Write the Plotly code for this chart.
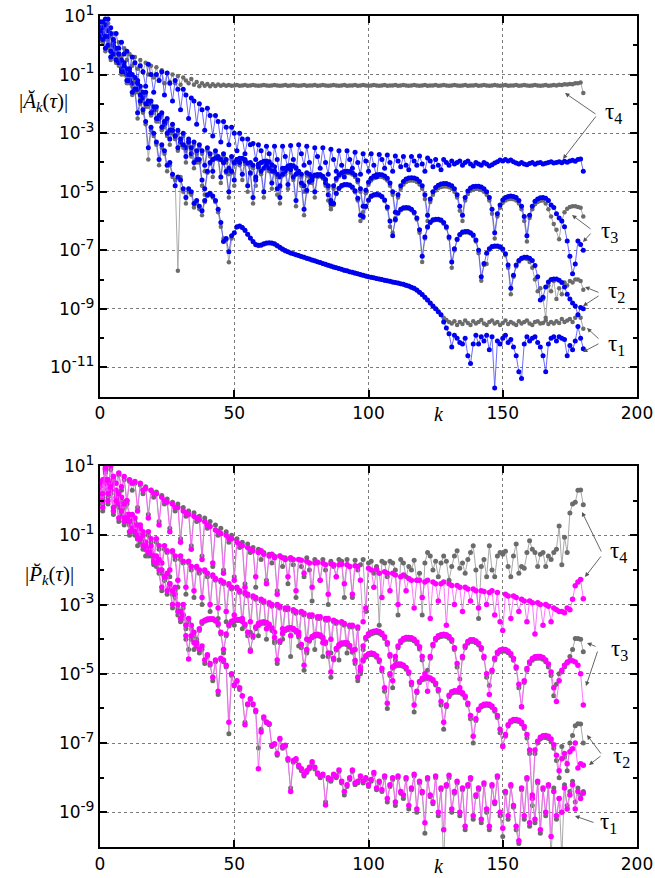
import plotly.graph_objects as go

k = list(range(181))

# ---------------- top panel |A_k(tau)|, log10 values ----------------
a_t1_blue = [0.5, 0.8, 0.3, 0.9, -0.2, 0.2, -0.5, -0.3, -0.9, -0.7,
    -1.2, -1.0, -1.6, -1.5, -2.3, -1.9, -2.2, -2.6, -3.5, -2.8,
    -3.0, -3.3, -3.9, -3.4, -3.6, -4.1, -4.0, -4.4, -4.8, -4.5,
    -4.6, -4.9, -5.2, -4.9, -5.0, -5.4, -5.3, -5.5, -5.65, -5.3,
    -5.1, -5.05, -5.15, -5.3, -5.6, -6.05, -6.7, -6.6, -7.05, -6.5,
    -6.4, -6.2, -6.17, -6.22, -6.32, -6.45, -6.58, -6.7, -6.8, -6.83,
    -6.82, -6.78, -6.75, -6.74, -6.75, -6.78, -6.84, -6.9, -6.96, -7.01,
    -7.05, -7.09, -7.12, -7.15, -7.18, -7.21, -7.24, -7.27, -7.3, -7.33,
    -7.36, -7.39, -7.42, -7.45, -7.48, -7.51, -7.54, -7.57, -7.6, -7.62,
    -7.65, -7.68, -7.7, -7.73, -7.75, -7.78, -7.8, -7.83, -7.85, -7.88,
    -7.9, -7.92, -7.94, -7.96, -7.98, -8.0, -8.02, -8.04, -8.06, -8.08,
    -8.1, -8.12, -8.14, -8.16, -8.19, -8.22, -8.26, -8.3, -8.36, -8.43,
    -8.51, -8.6, -8.7, -8.8, -8.9, -9.0, -9.1, -9.2, -9.45, -9.65,
    -9.85, -10.3, -9.9, -10.0, -10.15, -10.2, -10.0, -10.6, -10.87, -10.2,
    -9.9, -10.2, -9.95, -10.1, -9.9, -10.4, -9.95, -11.7, -10.1, -10.2,
    -10.0, -9.9, -10.15, -10.05, -10.3, -10.6, -11.15, -11.38, -10.2, -9.95,
    -10.1, -10.0, -9.95, -10.15, -10.3, -10.6, -11.15, -10.2, -10.0, -9.95,
    -10.1, -9.95, -10.0, -10.05, -10.6, -10.25, -10.4, -10.1, -9.6, -10.0,
    -10.36]

a_t1_gray = [0.45, 0.7, 0.2, 0.75, -0.4, 0.1, -0.6, -0.4, -1.0, -0.8,
    -1.3, -1.1, -1.7, -1.6, -2.5, -2.0, -2.3, -2.7, -3.9, -2.9,
    -3.1, -3.4, -4.1, -3.5, -3.7, -4.3, -4.1, -4.5, -4.6, -7.7,
    -4.5, -5.0, -5.4, -5.0, -5.1, -5.54, -5.4, -5.6, -5.8, -5.35,
    -5.15, -5.1, -5.2, -5.35, -5.7, -6.2, -6.6, -6.65, -7.41, -6.6,
    -6.42, -6.22, -6.18, -6.23, -6.33, -6.46, -6.6, -6.72, -6.82, -6.85,
    -6.84, -6.8, -6.77, -6.76, -6.77, -6.8, -6.86, -6.92, -6.98, -7.03,
    -7.06, -7.1, -7.13, -7.16, -7.19, -7.22, -7.25, -7.28, -7.31, -7.34,
    -7.37, -7.4, -7.43, -7.46, -7.49, -7.52, -7.55, -7.58, -7.6, -7.63,
    -7.66, -7.69, -7.71, -7.74, -7.76, -7.79, -7.81, -7.84, -7.86, -7.89,
    -7.91, -7.93, -7.95, -7.97, -7.99, -8.01, -8.03, -8.05, -8.07, -8.09,
    -8.11, -8.13, -8.15, -8.17, -8.2, -8.23, -8.27, -8.31, -8.37, -8.44,
    -8.52, -8.61, -8.71, -8.81, -8.9, -9.0, -9.1, -9.2, -9.3, -9.38,
    -9.45, -9.5, -9.42, -9.55, -9.45, -9.52, -9.4, -9.48, -9.55, -9.42,
    -9.5, -9.45, -9.38, -9.5, -9.55, -9.45, -9.4, -9.5, -9.45, -9.55,
    -9.48, -9.4, -9.52, -9.45, -9.5, -9.55, -9.42, -9.5, -9.45, -9.4,
    -9.5, -9.55, -9.45, -9.42, -9.5, -9.48, -9.4, -9.52, -9.45, -9.5,
    -9.42, -9.48, -9.35, -9.45, -9.4, -9.35, -9.45, -9.3, -9.2, -9.3,
    -9.68]

a_t2_blue = [0.6, 0.2, 0.7, 0.0, 0.4, -0.3, -0.1, -0.6, -0.5, -0.9,
    -0.8, -1.2, -1.0, -1.5, -1.3, -1.7, -1.6, -2.0, -1.9, -2.3,
    -2.1, -2.5, -2.4, -2.8, -2.6, -3.0, -3.2, -2.9, -3.1, -3.5,
    -3.2, -3.4, -3.8, -3.3, -3.5, -4.0, -3.6, -3.9, -4.6,
    -4.9, -4.3, -4.0, -3.9, -3.85, -3.85, -3.9, -4.0, -4.3, -5.0,
    -4.3, -4.0, -3.9, -3.86, -3.86, -3.9, -4.02, -4.35, -5.2,
    -4.5, -4.15, -4.0, -3.96, -3.95, -3.98, -4.08, -4.3, -4.9,
    -4.8, -4.4, -4.2, -4.12, -4.1, -4.11, -4.18, -4.35, -4.7, -5.6,
    -4.95, -4.65, -4.5, -4.43, -4.41, -4.42, -4.47, -4.58, -4.8, -5.3,
    -5.4, -5.05, -4.88, -4.79, -4.75, -4.75, -4.77, -4.84, -4.97, -5.22, -5.8,
    -5.85, -5.5, -5.28, -5.15, -5.1, -5.09, -5.1, -5.16, -5.28, -5.52, -6.0,
    -6.5, -5.95, -5.72, -5.6, -5.55, -5.54, -5.55, -5.6, -5.7, -5.9, -6.3, -7.2,
    -6.55, -6.2, -6.04, -5.96, -5.94, -5.94, -5.97, -6.05, -6.2, -6.55, -7.4,
    -6.95, -6.62, -6.46, -6.38, -6.36, -6.36, -6.4, -6.48, -6.65, -7.0, -7.9,
    -7.45, -7.1, -6.95, -6.87, -6.85, -6.85, -6.88, -6.96, -7.12, -7.5, -8.3,
    -7.85, -7.5, -7.35, -7.27, -7.24, -7.24, -7.27, -7.35, -7.52, -7.9, -8.7,
    -8.6, -8.25, -8.08, -8.0, -7.98, -7.98, -8.02, -8.1, -8.25, -8.5, -8.66,
    -8.8, -8.9, -9.2, -8.95, -9.0]

a_t2_gray = [0.5, 0.1, 0.6, -0.1, 0.3, -0.4, -0.2, -0.7, -0.6, -1.0,
    -0.9, -1.3, -1.1, -1.6, -1.4, -1.8, -1.7, -2.1, -2.0, -2.4,
    -2.2, -2.6, -2.5, -2.9, -2.7, -3.1, -3.4, -3.0, -3.2, -3.6,
    -3.3, -3.5, -4.0, -3.4, -3.6, -4.2, -3.7, -4.0, -4.8,
    -5.1, -4.35, -4.05, -3.92, -3.87, -3.87, -3.92, -4.03, -4.35, -5.2,
    -4.35, -4.05, -3.93, -3.88, -3.88, -3.93, -4.06, -4.4, -5.4,
    -4.55, -4.2, -4.03, -3.99, -3.98, -4.01, -4.12, -4.36, -5.1,
    -4.85, -4.45, -4.24, -4.16, -4.14, -4.15, -4.22, -4.4, -4.8, -5.8,
    -5.0, -4.7, -4.55, -4.47, -4.45, -4.46, -4.51, -4.63, -4.87, -5.5,
    -5.45, -5.08, -4.91, -4.82, -4.78, -4.78, -4.8, -4.88, -5.02, -5.3, -6.0,
    -5.9, -5.53, -5.31, -5.18, -5.13, -5.12, -5.13, -5.19, -5.32, -5.58, -6.2,
    -6.4, -5.98, -5.75, -5.63, -5.58, -5.57, -5.58, -5.63, -5.74, -5.95, -6.4, -7.4,
    -6.6, -6.23, -6.07, -5.99, -5.97, -5.97, -6.0, -6.09, -6.25, -6.6, -7.6,
    -7.0, -6.65, -6.49, -6.41, -6.39, -6.39, -6.43, -6.52, -6.7, -7.1, -8.04,
    -7.5, -7.47, -6.98, -6.9, -6.88, -6.88, -6.91, -7.0, -7.17, -7.6, -8.5,
    -7.9, -7.55, -7.38, -7.3, -7.27, -7.3, -7.4, -7.6, -8.0, -8.4, -8.3,
    -8.66, -9.3, -8.2, -8.4, -8.05, -8.66, -8.3, -8.5, -8.1, -8.2, -8.05,
    -8.1, -8.0, -8.0, -8.05, -8.35]

a_t3_blue = [0.3, 0.6, -0.1, 0.3, -0.4, 0.0, -0.5, -0.3, -0.8, -0.6,
    -1.0, -0.9, -1.3, -1.1, -1.5, -1.4, -1.8, -1.6, -2.0, -1.9,
    -2.2, -2.1, -2.5, -2.3, -2.7, -2.5, -2.9, -2.7, -3.1, -2.9,
    -3.3, -3.0, -3.5, -3.2, -3.7, -3.3, -3.9, -3.4, -3.6, -4.1,
    -3.5, -3.7, -4.3, -3.6, -3.8, -4.5, -3.7, -3.9, -4.2, -3.8,
    -4.6, -3.9, -4.0, -4.4, -3.95, -4.8, -4.0, -4.1, -4.6, -4.05,
    -4.3, -5.0, -4.1, -4.2, -4.7, -4.15, -4.4, -5.2, -4.2, -4.3,
    -4.75, -4.25, -4.5, -5.3, -4.3, -4.4, -4.8, -4.35, -4.4, -4.6,
    -5.0, -4.45, -4.42, -4.5, -4.7, -5.1,
    -5.4, -4.8, -4.55, -4.42, -4.35, -4.31, -4.3, -4.31, -4.35, -4.43, -4.6, -4.9, -5.5,
    -4.95, -4.68, -4.54, -4.46, -4.42, -4.41, -4.42, -4.46, -4.54, -4.7, -5.0, -5.7,
    -5.1, -4.8, -4.65, -4.57, -4.53, -4.52, -4.53, -4.57, -4.65, -4.8, -5.1, -5.8,
    -5.25, -5.0, -4.86, -4.78, -4.74, -4.72, -4.72, -4.75, -4.8, -4.9, -5.1, -5.5, -5.8,
    -5.2, -4.98, -4.87, -4.82, -4.81, -4.81, -4.84, -4.9, -5.0, -5.2, -5.6, -6.4,
    -5.75, -5.45, -5.28, -5.2, -5.16, -5.15, -5.16, -5.2, -5.3, -5.5, -5.85, -6.5,
    -5.8, -5.5, -5.33, -5.25, -5.21, -5.2, -5.22, -5.3, -5.45, -5.54, -5.75,
    -5.9, -6.0, -6.2, -6.68, -7.2, -7.8, -7.47, -6.68, -6.8, -7.0]

a_t3_gray = [0.2, 0.5, -0.2, 0.2, -0.5, -0.1, -0.6, -0.4, -0.9, -0.7,
    -1.1, -1.0, -1.4, -1.2, -1.6, -1.5, -1.9, -1.7, -2.1, -2.0,
    -2.3, -2.2, -2.6, -2.4, -2.8, -2.6, -3.0, -2.8, -3.2, -3.0,
    -3.4, -3.1, -3.6, -3.3, -3.8, -3.4, -4.0, -3.5, -3.7, -4.3,
    -3.6, -3.8, -4.5, -3.7, -3.9, -4.7, -3.8, -4.0, -4.4, -3.9,
    -4.8, -4.0, -4.1, -4.6, -4.05, -5.0, -4.1, -4.2, -4.8, -4.15,
    -4.4, -5.2, -4.2, -4.3, -4.9, -4.25, -4.5, -5.4, -4.3, -4.4,
    -4.9, -4.35, -4.6, -5.5, -4.4, -4.5, -5.0, -4.45, -4.5, -4.7,
    -5.2, -4.5, -4.47, -4.55, -4.8, -5.3,
    -5.6, -4.9, -4.62, -4.48, -4.41, -4.37, -4.36, -4.37, -4.41, -4.5, -4.68, -5.0, -5.7,
    -5.05, -4.76, -4.62, -4.54, -4.5, -4.49, -4.5, -4.54, -4.62, -4.8, -5.1, -5.9,
    -5.2, -4.9, -4.75, -4.67, -4.63, -4.62, -4.63, -4.67, -4.75, -4.9, -5.25, -6.0,
    -5.35, -5.1, -4.96, -4.88, -4.84, -4.82, -4.82, -4.85, -4.9, -5.0, -5.2, -5.65, -6.0,
    -5.3, -5.08, -4.97, -4.92, -4.91, -4.91, -4.94, -5.0, -5.1, -5.3, -5.75, -6.6,
    -5.85, -5.55, -5.38, -5.3, -5.26, -5.25, -5.26, -5.3, -5.4, -5.6, -6.0, -6.7,
    -5.9, -5.6, -5.43, -5.35, -5.31, -5.3, -5.4, -5.6, -5.85, -6.1, -6.3,
    -6.62, -6.0, -5.7, -5.58, -5.52, -5.5, -5.5, -5.52, -5.55, -5.85]

a_t4_blue = [0.8, 0.4, 0.9, 0.5, 0.6, 0.1, 0.4, -0.1, 0.1, -0.3,
    -0.2, -0.8, -0.4, -0.6, -1.2, -0.7, -0.9, -1.4, -0.65, -1.0,
    -1.6, -1.0, -1.2, -0.9, -1.7, -0.95, -1.3, -1.9, -1.2, -1.5,
    -2.2, -1.5, -1.7, -2.5, -1.8, -1.9, -2.7, -2.0, -2.2, -2.9,
    -2.15, -2.4, -3.1, -2.4, -2.6, -3.3, -2.6, -2.8, -3.4, -2.8,
    -3.0, -3.6, -3.0, -3.2, -3.7, -3.2, -3.4, -3.35, -3.9, -3.4,
    -3.6, -4.2, -3.45, -3.7, -4.3, -3.45, -3.9, -4.5, -3.45, -3.8,
    -4.2, -3.42, -3.9, -4.4, -3.4, -3.7, -4.1, -3.45, -4.0, -4.5,
    -3.5, -3.8, -4.2, -3.5, -4.0, -4.4, -3.55, -3.9, -4.3, -3.6,
    -4.1, -4.5, -3.6, -3.9, -4.2, -3.65, -4.0, -4.4, -3.7, -3.95,
    -4.3, -3.7, -4.1, -4.5, -3.73, -3.9, -4.2, -3.75, -4.0, -4.3,
    -3.78, -3.95, -4.15, -3.8, -4.1, -4.25, -3.8, -3.95, -4.1, -3.78,
    -4.05, -4.3, -3.85, -3.95, -4.15, -3.9, -4.1, -4.25, -3.9, -4.0,
    -4.1, -3.95, -4.05, -4.0, -3.95, -4.1, -4.0, -3.95, -4.05, -4.12,
    -4.0, -4.05, -4.1, -4.0, -4.05, -4.12, -4.08, -4.02, -3.98, -3.92,
    -3.95, -3.9, -3.95, -3.92, -3.98, -4.02, -4.05, -4.0, -4.05, -4.08,
    -4.04, -4.0, -4.06, -4.02, -4.0, -4.05, -4.03, -4.0, -3.98, -4.02,
    -4.0, -3.98, -4.01, -3.96, -3.99, -3.95, -3.93, -3.96, -3.9, -3.88,
    -4.3]

a_t4_gray = [0.5, 0.1, 0.7, 0.3, 0.0, 0.4, -0.2, 0.1, -0.4, -0.1,
    -0.5, -0.3, -0.7, -0.4, -0.8, -0.5, -0.9, -0.6, -1.0, -0.7,
    -1.1, -0.75, -1.2, -0.85, -1.3, -0.95, -1.25, -1.0, -1.3, -1.05,
    -1.35, -1.1, -1.2, -1.3, -1.15, -1.35, -1.25, -1.4, -1.3, -1.38,
    -1.32, -1.4, -1.33, -1.39, -1.34, -1.38, -1.35, -1.38, -1.36, -1.38,
    -1.37, -1.36, -1.38, -1.37, -1.36, -1.38, -1.37, -1.36, -1.37, -1.38,
    -1.37, -1.36, -1.37, -1.38, -1.37, -1.36, -1.37, -1.38, -1.37, -1.36,
    -1.38, -1.37, -1.36, -1.37, -1.38, -1.37, -1.36, -1.38, -1.37, -1.37,
    -1.36, -1.38, -1.37, -1.36, -1.37, -1.38, -1.37, -1.36, -1.37, -1.38,
    -1.37, -1.36, -1.38, -1.37, -1.37, -1.36, -1.38, -1.37, -1.36, -1.37,
    -1.38, -1.37, -1.36, -1.37, -1.38, -1.37, -1.36, -1.38, -1.37, -1.37,
    -1.36, -1.38, -1.37, -1.36, -1.37, -1.38, -1.37, -1.36, -1.37, -1.38,
    -1.37, -1.36, -1.38, -1.37, -1.37, -1.36, -1.38, -1.37, -1.36, -1.37,
    -1.38, -1.37, -1.36, -1.37, -1.38, -1.37, -1.36, -1.38, -1.37, -1.37,
    -1.36, -1.38, -1.37, -1.36, -1.37, -1.38, -1.37, -1.36, -1.37, -1.38,
    -1.37, -1.36, -1.38, -1.37, -1.37, -1.36, -1.38, -1.37, -1.36, -1.37,
    -1.38, -1.37, -1.36, -1.37, -1.38, -1.37, -1.36, -1.38, -1.37, -1.36,
    -1.37, -1.35, -1.36, -1.33, -1.34, -1.32, -1.33, -1.3, -1.3, -1.27,
    -1.63]

# ---------------- bottom panel |P_k(tau)|, log10 values ----------------
p_t1_mag = [0.5, 0.2, 0.95, 0.6, 0.4, 0.7, 0.0, 0.2, -0.3, -0.1,
    -0.5, -0.6, -0.4, -0.9, -0.7, -1.1, -1.0, -1.3, -1.5, -1.3,
    -1.6, -1.8, -1.7, -2.0, -2.2, -2.1, -2.4, -2.6, -2.5, -3.0,
    -3.2, -3.0, -3.6, -3.4, -3.9, -3.8, -4.1, -4.3, -4.2, -4.6,
    -4.45, -4.7, -5.1, -4.6, -5.5, -4.55, -4.6, -4.75, -6.4, -5.0,
    -5.32, -5.2, -5.4, -5.63, -6.47, -5.87, -5.72, -5.87, -6.06, -7.74,
    -6.68, -6.25, -6.39, -6.44, -7.06, -7.02, -7.3, -6.87, -7.1, -7.06,
    -7.45, -8.4, -7.5, -7.45, -7.64, -7.74, -7.9, -7.8, -7.7, -7.54,
    -7.7, -7.86, -7.95, -7.9, -8.79, -8.0, -8.05, -7.9, -7.95, -7.78,
    -8.1, -8.4, -8.2, -8.0, -7.78, -8.15, -8.1, -7.95, -8.1, -8.0,
    -8.2, -8.05, -7.85, -8.3, -8.1, -8.35, -7.95, -8.6, -8.2, -8.0,
    -8.7, -7.95, -8.4, -8.5, -8.0, -8.8, -8.3, -7.9, -8.9, -8.1,
    -8.4, -9.3, -8.0, -8.5, -8.7, -7.95, -9.0, -8.3, -9.5, -8.2,
    -7.93, -8.9, -8.4, -8.1, -9.0, -8.3, -9.4, -8.2, -8.0, -9.1,
    -8.5, -8.3, -9.2, -8.15, -8.9, -9.4, -8.2, -8.7, -7.95, -9.0,
    -9.46, -8.4, -9.1, -8.2, -8.8, -9.4, -9.82, -8.3, -9.1, -8.0,
    -9.3, -8.5, -9.2, -8.1, -9.5, -8.3, -9.0, -8.2, -9.7, -8.4,
    -9.1, -8.6, -9.0, -8.3, -8.9, -8.5, -8.2, -8.9, -8.4, -8.6,
    -8.45]

p_t1_gray = [0.4, 0.1, 0.85, 0.5, 0.3, 0.6, -0.1, 0.1, -0.4, -0.2,
    -0.6, -0.7, -0.5, -1.0, -0.8, -1.2, -1.1, -1.4, -1.6, -1.4,
    -1.7, -1.9, -1.8, -2.1, -2.3, -2.2, -2.5, -2.7, -2.6, -3.1,
    -3.3, -3.1, -3.7, -3.5, -4.0, -3.9, -4.2, -4.4, -4.3, -4.7,
    -4.5, -4.75, -5.2, -4.65, -5.6, -4.6, -4.65, -4.8, -6.73, -5.05,
    -5.35, -5.22, -5.45, -5.65, -6.4, -5.9, -5.75, -5.9, -6.1, -7.14,
    -6.6, -6.3, -6.42, -6.47, -7.1, -7.05, -7.35, -6.9, -7.15, -7.1,
    -7.5, -8.3, -7.55, -7.5, -7.7, -7.8, -7.95, -7.85, -7.75, -7.6,
    -7.75, -7.9, -8.0, -7.95, -8.7, -8.05, -8.1, -7.95, -8.0, -7.82,
    -8.15, -8.5, -8.25, -8.05, -7.82, -8.2, -8.15, -8.0, -8.15, -8.05,
    -8.25, -8.1, -7.9, -8.35, -8.15, -8.4, -8.0, -8.7, -8.25, -8.05,
    -8.8, -8.0, -8.45, -8.6, -8.05, -8.9, -8.35, -7.95, -9.0, -8.15,
    -8.45, -9.6, -8.05, -8.55, -8.75, -8.0, -9.1, -8.35, -10.5, -8.25,
    -8.0, -9.0, -8.45, -8.15, -9.1, -8.35, -9.5, -8.25, -8.05, -9.2,
    -8.55, -8.35, -9.3, -8.2, -9.0, -9.5, -8.25, -8.75, -8.0, -9.1,
    -9.7, -8.45, -9.2, -8.25, -8.85, -9.5, -9.9, -8.35, -9.2, -8.05,
    -9.4, -8.55, -9.3, -8.15, -9.6, -8.35, -9.1, -8.25, -10.4, -8.3,
    -9.2, -8.6, -10.3, -8.2, -8.8, -8.4, -8.1, -8.7, -8.3, -8.5,
    -8.4]

p_t2_mag = [0.4, 0.0, 0.6, 0.2, 0.5, -0.2, 0.3, -0.1, 0.1, -0.5,
    0.0, -0.4, -0.8, -0.5, -1.0, -0.8, -1.3, -1.2, -1.4, -1.5,
    -1.75, -1.6, -2.0, -2.5, -2.2, -2.6, -2.4, -3.0, -2.7, -3.2,
    -3.4, -3.3, -3.9, -4.57, -3.6, -4.1, -4.2,
    -3.7, -3.5, -3.45, -3.42, -3.41, -3.41, -3.45, -3.55, -3.8, -4.3,
    -3.85, -3.58, -3.48, -3.44, -3.43, -3.43, -3.47, -3.57, -3.8, -4.35,
    -3.9, -3.65, -3.55, -3.51, -3.5, -3.52, -3.57, -3.68, -3.95, -4.6,
    -4.05, -3.82, -3.72, -3.68, -3.67, -3.69, -3.75, -3.88, -4.15, -4.75,
    -4.3, -4.02, -3.92, -3.87, -3.86, -3.88, -3.95, -4.08, -4.4, -4.95,
    -4.55, -4.27, -4.16, -4.11, -4.1, -4.12, -4.18, -4.32, -4.62, -5.1,
    -4.9, -4.6, -4.48, -4.42, -4.4, -4.42, -4.48, -4.6, -4.85, -5.4, -5.85,
    -5.0, -4.8, -4.74, -4.72, -4.72, -4.75, -4.82, -4.95, -5.25, -5.9,
    -5.5, -5.22, -5.13, -5.1, -5.1, -5.12, -5.17, -5.27, -5.45, -5.8, -6.4,
    -5.9, -5.62, -5.52, -5.49, -5.49, -5.5, -5.55, -5.65, -5.85, -6.2, -6.8,
    -6.3, -6.02, -5.92, -5.88, -5.87, -5.88, -5.93, -6.03, -6.2, -6.6, -7.1,
    -6.75, -6.47, -6.36, -6.32, -6.32, -6.34, -6.4, -6.52, -6.75, -7.2, -8.6,
    -7.2, -6.95, -6.83, -6.79, -6.78, -6.8, -6.88, -7.05, -7.35, -7.8,
    -7.45, -7.3, -7.6, -7.25, -7.16, -7.0, -7.72, -7.6, -7.64]

p_t2_gray = [0.3, -0.1, 0.5, 0.1, 0.4, -0.3, 0.2, -0.2, 0.0, -0.6,
    -0.1, -0.5, -0.9, -0.6, -1.1, -0.9, -1.4, -1.3, -1.5, -1.6,
    -1.85, -1.7, -2.1, -2.6, -2.3, -2.7, -2.5, -3.1, -2.8, -3.3,
    -3.5, -3.4, -4.0, -4.3, -3.7, -4.3, -4.0,
    -3.75, -3.55, -3.48, -3.45, -3.44, -3.44, -3.48, -3.6, -3.85, -4.4,
    -3.9, -3.62, -3.52, -3.47, -3.46, -3.46, -3.5, -3.62, -3.9, -4.3,
    -3.95, -3.7, -3.59, -3.55, -3.54, -3.56, -3.62, -3.75, -4.05, -4.7,
    -4.1, -3.86, -3.76, -3.72, -3.71, -3.73, -3.8, -3.94, -4.25, -4.9,
    -4.35, -4.06, -3.96, -3.91, -3.9, -3.92, -3.99, -4.13, -4.5, -5.1,
    -4.6, -4.31, -4.2, -4.15, -4.14, -4.16, -4.23, -4.38, -4.7, -5.2,
    -4.95, -4.64, -4.52, -4.46, -4.44, -4.46, -4.52, -4.65, -4.92, -5.5, -6.0,
    -5.05, -4.84, -4.78, -4.76, -4.76, -4.79, -4.87, -5.0, -5.32, -6.1,
    -5.55, -5.26, -5.17, -5.14, -5.14, -5.16, -5.21, -5.32, -5.5, -5.9, -6.6,
    -5.95, -5.66, -5.56, -5.53, -5.53, -5.54, -5.59, -5.7, -5.9, -6.3, -7.0,
    -6.35, -6.06, -5.96, -5.92, -5.91, -5.92, -5.97, -6.08, -6.26, -6.7, -7.06,
    -6.8, -6.51, -6.4, -6.36, -6.36, -6.38, -6.45, -6.58, -6.85, -7.3, -8.8,
    -7.3, -7.0, -6.88, -6.84, -6.84, -6.87, -6.96, -7.15, -7.5, -8.0,
    -7.1, -7.4, -7.8, -7.0, -6.78, -6.5, -6.44, -6.45, -7.0]

p_t3_mag = [0.2, -0.2, 0.5, 0.0, 0.3, -0.3, 0.1, -0.5, -0.2, -0.6,
    -0.4, -0.9, -0.5, -0.7, -1.1, -0.7, -0.9, -1.4, -0.9, -1.1,
    -1.6, -1.1, -1.3, -1.8, -1.3, -1.45, -2.0, -1.45, -1.6, -2.3,
    -1.6, -1.75, -2.5, -1.75, -1.9, -2.6, -1.9, -2.0, -2.8, -2.0,
    -2.1, -3.0, -2.15, -2.25, -3.1, -2.3, -2.35, -3.2, -2.4, -2.5,
    -3.3, -2.5, -2.6, -3.4, -2.65, -2.7, -3.5, -2.75, -2.8, -3.6,
    -2.85, -2.9, -3.7, -2.95, -3.0, -3.8, -3.0, -3.05, -3.7, -3.1,
    -3.1, -3.9, -3.15, -3.2, -3.8, -3.2, -3.25, -4.0, -3.3, -3.3,
    -3.9, -3.35, -3.35, -4.1, -3.4, -3.4, -4.0, -3.45, -3.5, -4.2,
    -3.5, -3.55, -4.1, -3.6, -3.6, -4.3, -3.65,
    -4.8, -4.2, -3.95, -3.84, -3.79, -3.77, -3.76, -3.78, -3.83, -3.93, -4.1, -4.45, -5.2,
    -4.5, -4.2, -4.05, -3.98, -3.95, -3.95, -3.96, -4.0, -4.08, -4.22, -4.5, -5.0,
    -5.5, -4.5, -4.15, -3.98, -3.9, -3.87, -3.86, -3.87, -3.92, -4.02, -4.25, -4.7,
    -5.4, -4.5, -4.2, -4.07, -4.02, -4.02, -4.05, -4.12, -4.25, -4.5, -5.0, -5.6,
    -4.9, -4.55, -4.38, -4.31, -4.29, -4.3, -4.34, -4.42, -4.56, -4.8, -5.3, -5.95,
    -5.2, -4.85, -4.66, -4.56, -4.51, -4.5, -4.5, -4.53, -4.6, -4.72, -4.95, -5.4, -5.8,
    -5.2, -4.9, -4.75, -4.68, -4.62, -4.62, -4.66, -4.75, -5.0, -5.9]

p_t3_gray = [0.1, -0.3, 0.4, -0.1, 0.2, -0.4, 0.0, -0.6, -0.3, -0.7,
    -0.5, -1.0, -0.6, -0.8, -1.3, -0.8, -1.0, -1.6, -1.0, -1.2,
    -1.8, -1.2, -1.4, -2.0, -1.4, -1.5, -2.2, -1.5, -1.7, -2.5,
    -1.7, -1.8, -2.7, -1.8, -2.0, -2.8, -1.95, -2.1, -3.0, -2.05,
    -2.2, -3.2, -2.2, -2.3, -3.4, -2.35, -2.4, -3.5, -2.45, -2.55,
    -3.6, -2.55, -2.65, -3.7, -2.7, -2.75, -3.8, -2.8, -2.85, -3.9,
    -2.9, -2.95, -4.0, -3.0, -3.05, -4.1, -3.05, -3.1, -4.0, -3.15,
    -3.15, -4.5, -3.2, -3.25, -4.2, -3.25, -3.3, -4.4, -3.35, -3.35,
    -4.3, -3.4, -3.4, -4.5, -3.45, -3.45, -4.4, -3.5, -3.55, -4.6,
    -3.55, -3.6, -4.4, -3.65, -3.65, -4.6, -3.7,
    -5.0, -4.3, -4.0, -3.9, -3.85, -3.82, -3.81, -3.83, -3.88, -3.98, -4.15, -4.5, -5.4,
    -4.6, -4.25, -4.1, -4.03, -4.0, -4.0, -4.01, -4.05, -4.13, -4.28, -4.6, -5.15,
    -4.9, -4.55, -4.2, -4.03, -3.95, -3.92, -3.91, -3.92, -3.97, -4.07, -4.3, -4.8,
    -5.15, -4.55, -4.25, -4.12, -4.07, -4.07, -4.1, -4.17, -4.3, -4.55, -5.1, -5.34,
    -4.95, -4.6, -4.43, -4.36, -4.34, -4.35, -4.39, -4.47, -4.61, -4.85, -5.4, -5.96,
    -5.25, -4.9, -4.71, -4.61, -4.56, -4.55, -4.55, -4.58, -4.65, -4.8, -5.05, -5.63, -5.3,
    -5.0, -4.95, -4.8, -4.65, -4.5, -4.3, -3.98, -3.98, -4.0, -4.36]

p_t4_mag = [0.1, 0.6, 0.9, 0.3, 1.0, 0.7, 0.5, 0.8, 0.4, 0.7,
    0.0, 0.6, 0.5, 0.55, -0.3, 0.5, 0.3, 0.35, -0.5, 0.3,
    0.2, 0.2, -0.7, 0.1, 0.0, -0.05, -0.9, -0.1, -0.2, -0.2,
    -1.2, -0.3, -0.35, -0.4, -1.4, -0.45, -0.5, -0.55, -1.7, -0.6,
    -0.7, -0.75, -1.8, -0.85, -0.9, -0.95, -2.1, -1.0, -1.1, -1.1,
    -2.3, -1.2, -1.25, -1.3, -2.5, -1.35, -1.4, -1.45, -2.2, -1.5,
    -1.45, -1.55, -2.4, -1.6, -1.55, -1.65, -2.7, -1.6, -1.65, -1.7,
    -2.2, -1.65, -1.7, -2.6, -1.7, -1.72, -2.1, -1.75, -1.8, -2.5,
    -1.8, -1.78, -2.3, -1.8, -1.85, -2.7, -1.82, -1.85, -2.2, -1.85,
    -1.84, -2.4, -1.85, -1.9, -2.7, -1.88, -1.9, -2.3, -3.5, -3.1,
    -1.95, -2.0, -2.5, -1.98, -2.1, -2.8, -2.05, -2.1, -2.6, -2.1,
    -2.15, -3.0, -2.2, -2.15, -2.6, -2.25, -2.3, -3.1, -2.3, -2.3,
    -2.8, -2.35, -2.3, -3.4, -2.35, -2.4, -2.9, -2.4, -2.35, -3.6,
    -2.4, -2.45, -3.0, -2.45, -2.5, -3.2, -2.5, -2.55, -2.9, -2.55,
    -2.6, -3.1, -2.6, -2.62, -3.0, -2.65, -2.6, -3.3, -2.65, -3.5,
    -3.75, -2.7, -2.75, -3.4, -2.75, -2.8, -3.2, -2.85, -2.9, -3.5,
    -2.9, -2.95, -3.85, -2.95, -3.0, -3.6, -3.0, -3.05, -3.5, -3.1,
    -3.15, -3.2, -3.2, -3.24, -3.1, -3.15, -2.85, -2.46, -2.35, -2.28,
    -2.83]

p_t4_gray = [0.3, -0.1, 0.8, 0.4, 0.9, 0.5, 0.2, 0.75, 0.3, 0.6,
    -0.1, 0.55, 0.3, 0.5, -0.2, 0.45, 0.2, 0.4, -0.4, 0.3,
    0.1, 0.25, -0.6, 0.15, -0.1, 0.05, -0.8, -0.05, -0.3, -0.1,
    -1.1, -0.2, -0.45, -0.3, -1.3, -0.35, -0.6, -0.45, -1.6, -0.5,
    -0.8, -0.6, -1.9, -0.7, -1.0, -0.8, -2.0, -0.9, -1.2, -1.0,
    -2.2, -1.1, -1.35, -1.2, -2.4, -1.25, -1.5, -1.35, -2.5, -1.4,
    -1.7, -1.5, -2.3, -1.55, -1.8, -1.6, -2.6, -1.6, -1.9, -1.65,
    -2.4, -1.7, -1.85, -2.8, -1.7, -1.9, -2.2, -1.65, -2.0, -2.9,
    -1.7, -1.8, -2.3, -1.7, -2.0, -3.0, -1.75, -1.9, -2.2, -1.7,
    -1.75, -2.8, -1.7, -1.9, -2.8, -1.72, -2.0, -1.85, -1.7, -3.2,
    -1.8, -1.75, -2.1, -1.9, -3.6, -1.75, -1.8, -2.2, -1.75, -1.8,
    -2.0, -3.3, -1.7, -1.8, -2.2, -1.9, -2.0, -1.72, -2.3, -2.1,
    -3.3, -1.8, -1.5, -1.6, -2.0, -1.75, -2.2, -1.8, -1.6, -1.75,
    -2.3, -1.9, -1.6, -1.45, -1.95, -1.8, -2.1, -1.7, -1.5, -1.3,
    -2.0, -3.4, -1.9, -1.7, -2.2, -1.3, -2.0, -2.2, -1.6, -1.5,
    -1.55, -1.46, -1.9, -2.2, -1.6, -1.25, -2.1, -1.9, -1.95, -1.5,
    -1.16, -1.4, -1.5, -1.9, -1.55, -1.5, -1.9, -1.6, -1.7, -1.5,
    -1.4, -0.73, -1.85, -1.06, -1.5, -0.36, -0.1, -0.05, 0.3, 0.31,
    -0.12]

# tick labels
top_major = [1, -1, -3, -5, -7, -9, -11]
top_minor = [0, -2, -4, -6, -8, -10, -12]
bot_major = [1, -1, -3, -5, -7, -9]
bot_minor = [0, -2, -4, -6, -8, -10]
x_ticks = [0, 50, 100, 150, 200]

series = {
    "a_t1_blue": a_t1_blue, "a_t1_gray": a_t1_gray, "a_t2_blue": a_t2_blue,
    "a_t2_gray": a_t2_gray, "a_t3_blue": a_t3_blue, "a_t3_gray": a_t3_gray,
    "a_t4_blue": a_t4_blue, "a_t4_gray": a_t4_gray, "p_t1_mag": p_t1_mag,
    "p_t1_gray": p_t1_gray, "p_t2_mag": p_t2_mag, "p_t2_gray": p_t2_gray,
    "p_t3_mag": p_t3_mag, "p_t3_gray": p_t3_gray, "p_t4_mag": p_t4_mag,
    "p_t4_gray": p_t4_gray,
}
for name, s in series.items():
    assert len(s) == len(k), f"{name} has {len(s)} values"

GRAY_M, GRAY_L = "#6b6b6b", "#a9a9a9"
BLUE_M, BLUE_L = "#0000f0", "rgba(70,70,255,0.8)"
MAG_M, MAG_L = "#ff00ff", "rgba(255,90,255,0.85)"

fig = go.Figure()

def add(vals, mc, lc, ms, xa, ya):
    fig.add_trace(go.Scatter(
        x=k, y=[10 ** v for v in vals], mode="lines+markers",
        line=dict(color=lc, width=1), marker=dict(color=mc, size=ms),
        xaxis=xa, yaxis=ya, hoverinfo="skip"))

for s in [a_t4_gray, a_t3_gray, a_t2_gray, a_t1_gray]:
    add(s, GRAY_M, GRAY_L, 4.5, "x", "y")
for s in [a_t4_blue, a_t3_blue, a_t2_blue, a_t1_blue]:
    add(s, BLUE_M, BLUE_L, 5, "x", "y")
for s in [p_t4_gray, p_t3_gray, p_t2_gray, p_t1_gray]:
    add(s, GRAY_M, GRAY_L, 5, "x2", "y2")
for s in [p_t4_mag, p_t3_mag, p_t2_mag, p_t1_mag]:
    add(s, MAG_M, MAG_L, 5.5, "x2", "y2")

W, H = 655, 878
L, R, T, B = 100, 18, 16, 31
pw, ph = W - L - R, H - T - B

def px(xp, yp):
    return (xp - L) / pw, (H - B - yp) / ph

top_dom = [px(0, 396.7)[1], 1.0]
bot_dom = [0.0, px(0, 466)[1]]

tickfont = dict(family="DejaVu Sans, Liberation Sans, sans-serif", size=17, color="black")

def sup(e):
    return f"10<sup><span style='font-size:14px'>{e}</span></sup>"

xcommon = dict(range=[0, 200], tickvals=x_ticks, ticktext=[str(v) for v in x_ticks],
               ticks="inside", ticklen=7, tickwidth=1.5, tickcolor="black",
               showline=True, linewidth=2.2, linecolor="black", mirror="ticks",
               showgrid=True, gridcolor="#7a7a7a", griddash="dot", gridwidth=1,
               zeroline=False, tickfont=tickfont, automargin=False)

def ycommon(major, minor, rng):
    return dict(type="log", range=rng, tickvals=[10 ** e for e in major],
                ticktext=[sup(e) for e in major],
                ticks="inside", ticklen=7, tickwidth=1.5, tickcolor="black",
                minor=dict(tickvals=[10 ** e for e in minor], ticks="inside",
                           ticklen=4, tickwidth=1.5, tickcolor="black", showgrid=False),
                showline=True, linewidth=2.2, linecolor="black", mirror="ticks",
                showgrid=True, gridcolor="#7a7a7a", griddash="dot", gridwidth=1,
                zeroline=False, tickfont=tickfont, automargin=False)

fig.update_layout(
    width=W, height=H, margin=dict(l=L, r=R, t=T, b=B, autoexpand=False),
    paper_bgcolor="white", plot_bgcolor="white", showlegend=False,
    xaxis=dict(xcommon, anchor="y", domain=[0, 1]),
    yaxis=dict(ycommon(top_major, top_minor, [-12, 1]), anchor="x", domain=top_dom),
    xaxis2=dict(xcommon, anchor="y2", domain=[0, 1]),
    yaxis2=dict(ycommon(bot_major, bot_minor, [-10, 1]), anchor="x2", domain=bot_dom),
)

serif = "Liberation Serif, Times New Roman, serif"
ann = []

def text(xp, yp, t, size=23, fam=serif):
    x, y = px(xp, yp)
    ann.append(dict(x=x, y=y, xref="paper", yref="paper", text=t, showarrow=False,
                    font=dict(family=fam, size=size, color="black"),
                    xanchor="center", yanchor="middle"))

def arrow(tx, ty, hx, hy):
    x, y = px(hx, hy)
    ann.append(dict(x=x, y=y, xref="paper", yref="paper", text="", showarrow=True,
                    ax=tx - hx, ay=ty - hy, axref="pixel", ayref="pixel",
                    arrowhead=2, arrowsize=1, arrowwidth=0.9, arrowcolor="#555555",
                    standoff=0, startstandoff=0))

# axis labels
text(43, 102, "|<i>Ă<sub>k</sub></i>(<i>τ</i>)|", 21)
text(49, 575, "|<i>P\u0306<sub>k</sub></i>(<i>τ</i>)|", 21)
text(439, 414, "<i>k</i>", 20)
text(439, 866, "<i>k</i>", 20)

# top labels
text(613, 113, "τ<sub>4</sub>")
arrow(597, 115, 565, 93)
arrow(597, 115, 563, 159)
text(609, 232, "τ<sub>3</sub>")
arrow(592, 230, 572, 215)
arrow(592, 232, 583, 242)
text(616, 292, "τ<sub>2</sub>")
arrow(600, 293, 585, 287)
arrow(600, 295, 583, 306)
text(616, 345, "τ<sub>1</sub>")
arrow(600, 340, 587, 328)
arrow(600, 343, 583, 352)

# bottom labels
text(618, 552, "τ<sub>4</sub>")
arrow(602, 553, 582, 512)
arrow(602, 555, 585, 577)
text(619, 650, "τ<sub>3</sub>")
arrow(597, 647, 587, 643)
arrow(598, 650, 586, 686)
text(621, 757, "τ<sub>2</sub>")
arrow(602, 755, 587, 735)
arrow(602, 755, 589, 765)
text(608, 823, "τ<sub>1</sub>")
arrow(595, 823, 575, 816)

fig.update_layout(annotations=ann)
fig.write_html("out.html", config={"displayModeBar": False},
               post_script="document.body.style.margin='0';document.body.style.overflow='hidden';")
